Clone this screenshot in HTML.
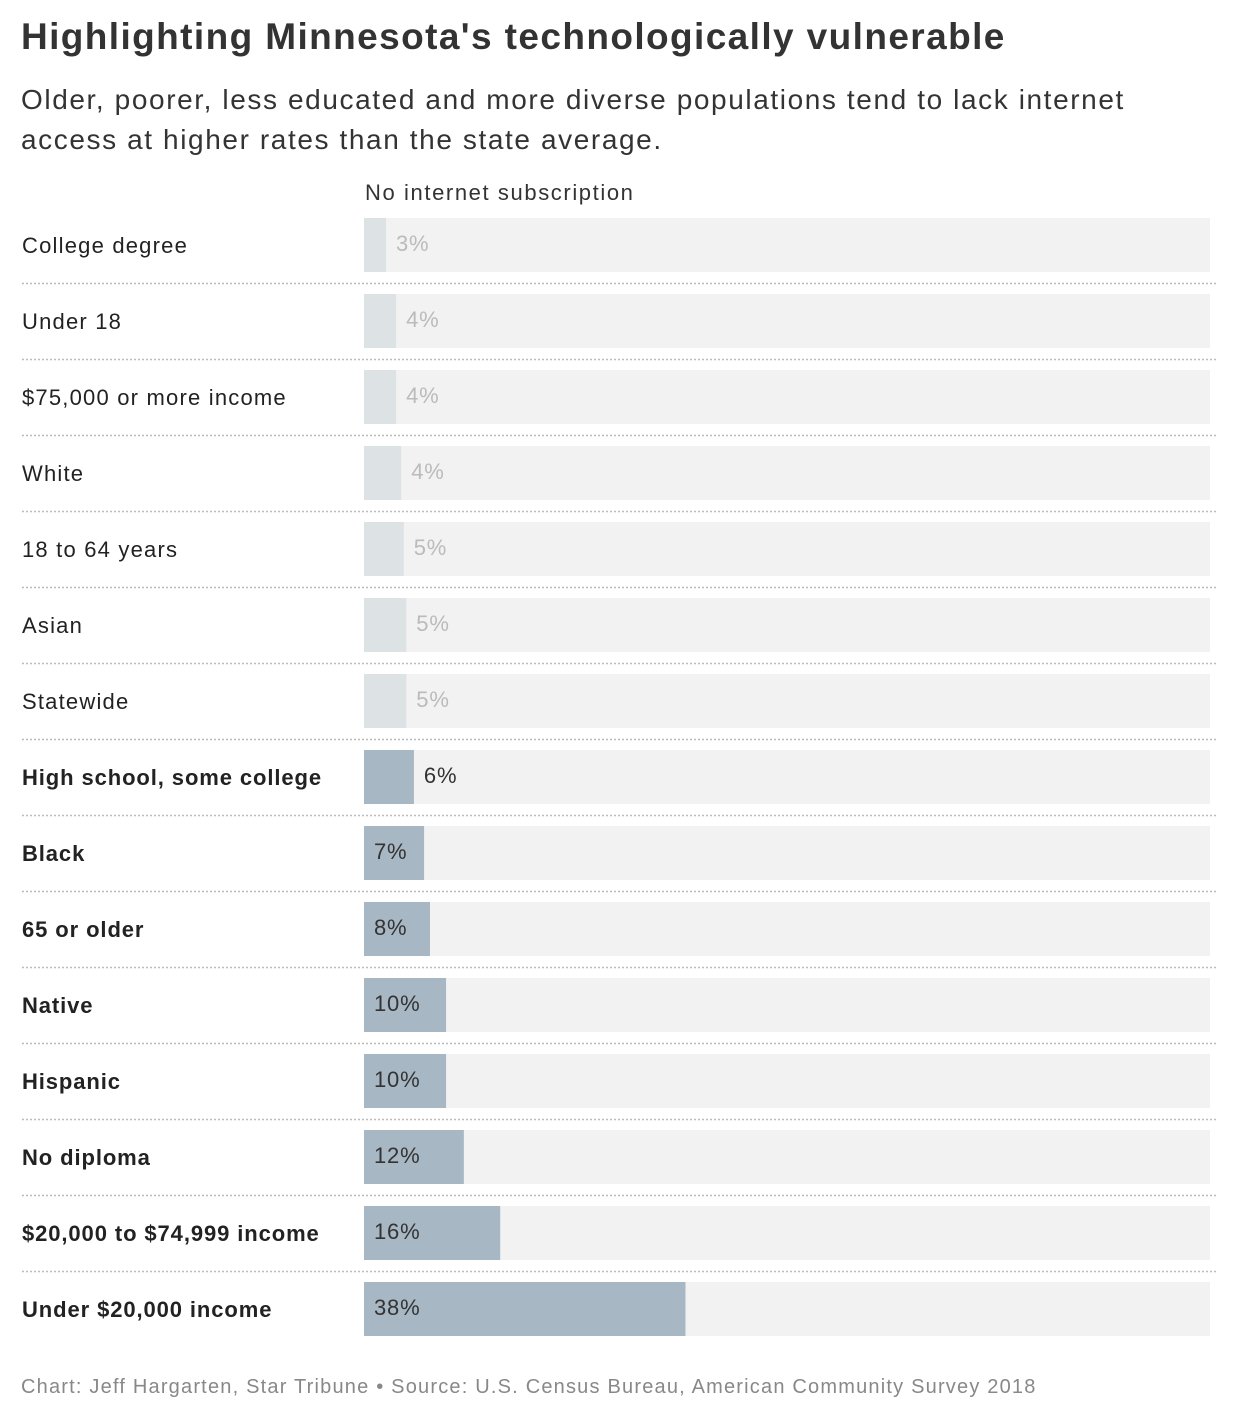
<!DOCTYPE html>
<html><head><meta charset="utf-8">
<style>
body{margin:0;background:#fff;font-family:"Liberation Sans",sans-serif;color:#222;width:1240px;height:1422px;position:relative;overflow:hidden}
h1{position:absolute;left:21px;top:16px;margin:0;font-size:37px;font-weight:bold;color:#333;letter-spacing:1.4px}
.sub{position:absolute;left:21px;top:80px;margin:0;font-size:28px;line-height:40px;color:#333;width:1180px;letter-spacing:1.6px}
.hdr{position:absolute;left:365px;top:180px;font-size:22px;color:#333;letter-spacing:1.6px}
.foot{position:absolute;left:21px;top:1376px;font-size:20px;color:#888;letter-spacing:1.2px}
</style></head><body>
<h1>Highlighting Minnesota's technologically vulnerable</h1>
<p class="sub">Older, poorer, less educated and more diverse populations tend to lack internet access at higher rates than the state average.</p>
<div class="hdr">No internet subscription</div>
<svg id="chart" width="1240" height="1422" style="position:absolute;left:0;top:0"></svg>
<div class="foot">Chart: Jeff Hargarten, Star Tribune • Source: U.S. Census Bureau, American Community Survey 2018</div>
<script>
const categories=["College degree","Under 18","$75,000 or more income","White","18 to 64 years","Asian","Statewide","High school, some college","Black","65 or older","Native","Hispanic","No diploma","$20,000 to $74,999 income","Under $20,000 income"];
const values=[2.6,3.8,3.8,4.4,4.7,5.0,5.0,5.9,7.1,7.8,9.7,9.7,11.8,16.1,38.0];
const highlighted=[false,false,false,false,false,false,false,true,true,true,true,true,true,true,true];
const NS="http://www.w3.org/2000/svg";
const svg=document.getElementById('chart');
const x0=364,x1=1210,top0=218,pitch=76,bh=54;
function xs(v){return (x1-x0)*v/100;}
function mk(t,a){const e=document.createElementNS(NS,t);for(const k in a)e.setAttribute(k,a[k]);svg.appendChild(e);return e;}
categories.forEach((c,i)=>{
  const y=top0+i*pitch;
  const tr=mk('rect',{x:x0,y:y,width:x1-x0,height:bh,fill:'#f2f2f2'});
  
  
  const w=xs(values[i]);
  const b=mk('rect',{x:x0,y:y,width:w,height:bh,fill:highlighted[i]?'#a8b7c4':'#dde2e5'});
  
  
  const lab=mk('text',{x:22,y:y+35,'font-size':22,fill:'#222','font-weight':highlighted[i]?'bold':'normal','letter-spacing':highlighted[i]?'0.9':'1.2'});
  lab.textContent=c;
  
  
  const inside=highlighted[i]&&w>55;
  const v=mk('text',{x:inside?x0+10:x0+w+10,y:y+33,'font-size':22,fill:highlighted[i]?'#333':'#bbb','letter-spacing':'0.8'});
  v.textContent=Math.round(values[i])+'%';
  
  
  if(i<categories.length-1){
    const l=mk('line',{x1:22,x2:1218,y1:y+bh+11.5,y2:y+bh+11.5,stroke:'#bbb','stroke-width':1.5,'stroke-dasharray':'2,2'});
    
    
  }
});
</script>
</body></html>
